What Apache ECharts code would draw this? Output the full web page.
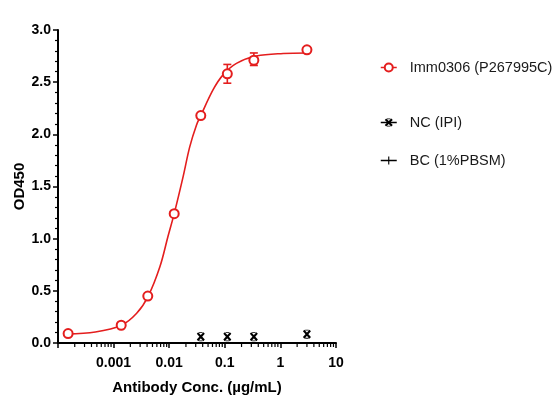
<!DOCTYPE html>
<html>
<head>
<meta charset="utf-8">
<script src="https://cdn.jsdelivr.net/npm/echarts@6/dist/echarts.min.js"></script>
<style>
  html, body { margin: 0; padding: 0; background: #fff; }
  #chart { width: 559px; height: 406px; }
</style>
</head>
<body>
<div id="chart"></div>
<script>
// measured points, Imm0306 (P267995C)
const conc = [0.000152, 0.00137, 0.00412, 0.0123, 0.037, 0.111, 0.333, 3];
const immOD = [0.09, 0.17, 0.45, 1.24, 2.18, 2.58, 2.71, 2.81];
const immLow = [0.09, 0.17, 0.45, 1.24, 2.18, 2.49, 2.66, 2.81];
const immHigh = [0.09, 0.17, 0.45, 1.24, 2.18, 2.67, 2.78, 2.81];

// fitted curve
const fitConc = [0.000145, 0.00047, 0.00138, 0.0026, 0.0042, 0.0068, 0.0095, 0.0123,
    0.0178, 0.0234, 0.031, 0.037, 0.062, 0.093, 0.162, 0.37, 1.12, 3.0];
const fitOD = [0.085, 0.105, 0.17, 0.285, 0.45, 0.73, 1.02, 1.24,
    1.595, 1.88, 2.09, 2.18, 2.43, 2.57, 2.68, 2.75, 2.775, 2.78];

// NC (IPI)
const ncConc = [0.037, 0.111, 0.333, 3];
const ncOD = [0.06, 0.06, 0.06, 0.085];

// BC (1%PBSM) - nothing visible on the plot
const bcConc = [];
const bcOD = [];

const xTickLabels = ['0.001', '0.01', '0.1', '1', '10'];

const RED = '#e41e1e';
const FONT = 'Liberation Sans';

const nameImm = 'Imm0306 (P267995C)';
const nameNC = 'NC (IPI)';
const nameBC = 'BC (1%PBSM)';

const crossSym = 'path://M0,1.8 L1.8,0 L10,8.2 L8.2,10 Z M8.2,0 L10,1.8 L1.8,10 L0,8.2 Z M2.8,0 L7.2,0 L7.2,0.9 L2.8,0.9 Z M2.8,9.1 L7.2,9.1 L7.2,10 L2.8,10 Z';
const plusSym = 'path://M4.3,0 L5.7,0 L5.7,10 L4.3,10 Z M0,4.3 L10,4.3 L10,5.7 L0,5.7 Z';

// minor tick positions for the log axis
const minorTicks = [];
for (let d = -4; d < 1; d++) {
    for (let m = 2; m <= 9; m++) minorTicks.push([m * Math.pow(10, d)]);
}

const chart = echarts.init(document.getElementById('chart'));

const legendBase = {
    orient: 'vertical',
    left: 380,
    padding: 0,
    itemWidth: 16,
    itemHeight: 10,
    textStyle: { fontFamily: FONT, fontSize: 14.5, color: '#1a1a1a', padding: [0, 0, 0, 8] },
    selectedMode: false,
};

const option = {
    animation: false,
    grid: { left: 58, top: 30, right: 223, bottom: 63 },
    legend: [
        Object.assign({}, legendBase, {
            top: 60,
            data: [nameImm],
            lineStyle: { color: RED, width: 1.5, opacity: 1 },
        }),
        Object.assign({}, legendBase, {
            top: 115,
            data: [nameNC],
            lineStyle: { color: '#000', width: 1.5, opacity: 1 },
        }),
        Object.assign({}, legendBase, {
            top: 153,
            data: [nameBC],
            lineStyle: { color: '#000', width: 1.5, opacity: 1 },
        }),
    ],
    xAxis: {
        type: 'log',
        logBase: 10,
        min: 0.0001,
        max: 10,
        name: 'Antibody Conc. (µg/mL)',
        nameLocation: 'middle',
        nameGap: 37,
        nameTextStyle: { fontFamily: FONT, fontSize: 15, fontWeight: 'bold', color: '#000' },
        axisLine: { lineStyle: { color: '#000', width: 2 } },
        axisTick: { length: 5, lineStyle: { width: 1.5, color: '#000' } },
        axisLabel: {
            margin: 13,
            fontFamily: FONT, fontSize: 14, fontWeight: 'bold', color: '#000',
            formatter: function (v) {
                const s = String(+v.toPrecision(6));
                return xTickLabels.indexOf(s) >= 0 ? s : '';
            },
        },
        splitLine: { show: false },
    },
    yAxis: {
        type: 'value',
        min: 0,
        max: 3,
        interval: 0.5,
        name: 'OD450',
        nameLocation: 'middle',
        nameGap: 28,
        nameTextStyle: { fontFamily: FONT, fontSize: 15, fontWeight: 'bold', color: '#000' },
        axisLine: { show: true, lineStyle: { color: '#000', width: 2 } },
        axisTick: { show: true, length: 5, lineStyle: { width: 1.5, color: '#000' } },
        minorTick: { show: true, splitNumber: 5, length: 3, lineStyle: { width: 1.2, color: '#000' } },
        axisLabel: {
            margin: 7,
            fontFamily: FONT, fontSize: 14, fontWeight: 'bold', color: '#000',
            formatter: v => v.toFixed(1),
        },
        splitLine: { show: false },
    },
    series: [
        {
            type: 'custom',
            silent: true,
            clip: false,
            data: minorTicks,
            renderItem: function (params, api) {
                const p = api.coord([api.value(0), 0]);
                return {
                    type: 'line',
                    shape: { x1: p[0], y1: p[1] + 1, x2: p[0], y2: p[1] + 4 },
                    style: { stroke: '#000', lineWidth: 1.2 },
                };
            },
        },
        {
            name: 'fit',
            type: 'line',
            smooth: 0.35,
            showSymbol: false,
            silent: true,
            data: fitConc.map((c, i) => [c, fitOD[i]]),
            lineStyle: { color: RED, width: 1.6 },
        },
        {
            type: 'custom',
            silent: true,
            data: conc.map((c, i) => [c, immLow[i], immHigh[i]]),
            renderItem: function (params, api) {
                if (api.value(2) - api.value(1) <= 0) return null;
                const lo = api.coord([api.value(0), api.value(1)]);
                const hi = api.coord([api.value(0), api.value(2)]);
                const st = { stroke: RED, lineWidth: 1.6 };
                return {
                    type: 'group',
                    children: [
                        { type: 'line', shape: { x1: lo[0], y1: lo[1], x2: hi[0], y2: hi[1] }, style: st },
                        { type: 'line', shape: { x1: lo[0] - 4, y1: lo[1], x2: lo[0] + 4, y2: lo[1] }, style: st },
                        { type: 'line', shape: { x1: hi[0] - 4, y1: hi[1], x2: hi[0] + 4, y2: hi[1] }, style: st },
                    ],
                };
            },
        },
        {
            name: nameImm,
            type: 'line',
            data: conc.map((c, i) => [c, immOD[i]]),
            symbol: 'emptyCircle',
            symbolSize: 9,
            lineStyle: { opacity: 0 },
            itemStyle: { color: RED, borderColor: RED, borderWidth: 1.6 },
            z: 5,
        },
        {
            name: nameNC,
            type: 'line',
            data: ncConc.map((c, i) => [c, ncOD[i]]),
            symbol: crossSym,
            symbolSize: [8, 9],
            lineStyle: { opacity: 0 },
            itemStyle: { color: '#000' },
            z: 5,
        },
        {
            name: nameBC,
            type: 'line',
            data: bcConc.map((c, i) => [c, bcOD[i]]),
            symbol: plusSym,
            symbolSize: 9,
            lineStyle: { opacity: 0 },
            itemStyle: { color: '#000' },
        },
    ],
};

chart.setOption(option);
</script>
</body>
</html>
